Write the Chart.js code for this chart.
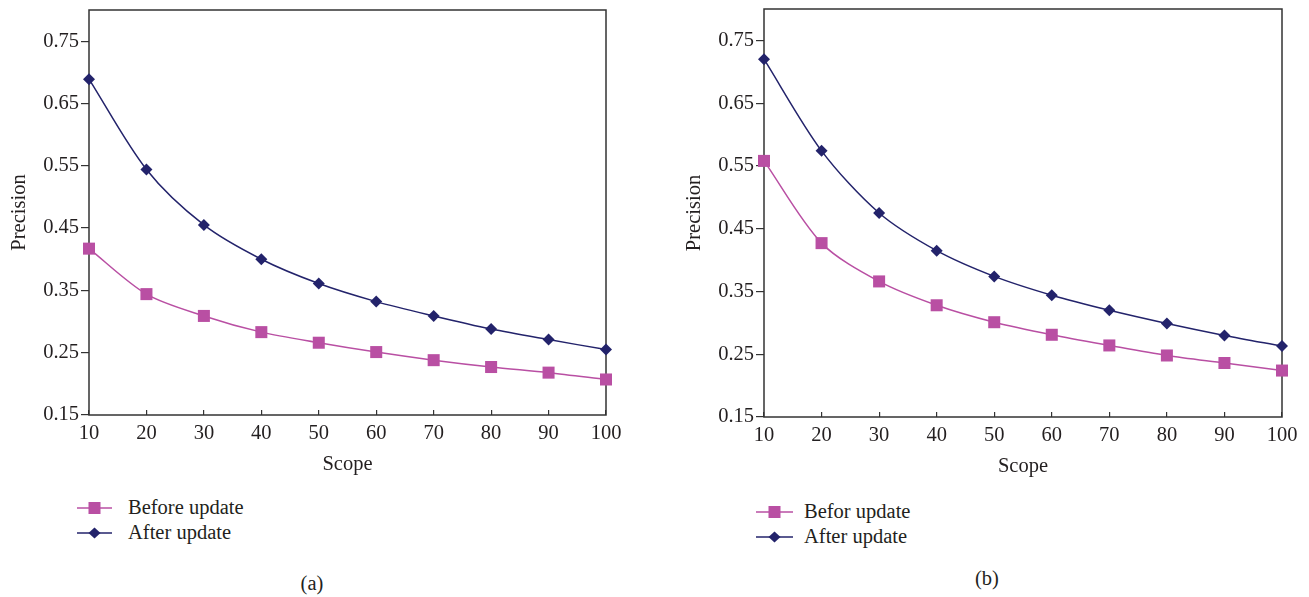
<!DOCTYPE html>
<html><head><meta charset="utf-8">
<script src="https://cdn.jsdelivr.net/npm/chart.js@4.4.1/dist/chart.umd.min.js"></script>
<style>
body{margin:0;background:#fff;width:1309px;height:597px;overflow:hidden;position:relative;font-family:"Liberation Serif",serif;color:#231f20}
.wrap{position:absolute;top:0;height:480px}
.leg{position:absolute;font-size:20.5px}
.row{display:flex;align-items:center;height:25px;white-space:nowrap}
.cap{position:absolute;font-size:20.5px;line-height:1;transform:translate(-50%,-50%)}
</style></head><body>
<div class="wrap" style="left:0;width:655px"><canvas id="ca" width="655" height="480"></canvas></div>
<div class="wrap" style="left:655px;width:654px"><canvas id="cb" width="654" height="480"></canvas></div>
<div class="leg" id="legA" style="left:77px;top:495px"></div>
<div class="leg" id="legB" style="left:756px;top:499px"></div>
<div class="cap" style="left:312px;top:583px">(a)</div>
<div class="cap" style="left:987px;top:578px">(b)</div>
<script>
const scope = [10, 20, 30, 40, 50, 60, 70, 80, 90, 100];
const yTicks = [0.15, 0.25, 0.35, 0.45, 0.55, 0.65, 0.75];
const beforeA = [0.417, 0.344, 0.309, 0.283, 0.266, 0.251, 0.238, 0.227, 0.218, 0.207];
const afterA  = [0.689, 0.544, 0.455, 0.400, 0.361, 0.332, 0.309, 0.288, 0.271, 0.255];
const beforeB = [0.558, 0.427, 0.366, 0.328, 0.301, 0.281, 0.264, 0.248, 0.236, 0.224];
const afterB  = [0.720, 0.574, 0.475, 0.415, 0.374, 0.344, 0.320, 0.299, 0.280, 0.263];
const labelsA = ['Before update', 'After update'];
const labelsB = ['Befor update', 'After update'];

const BEFORE_COLOR = '#b94fa3';
const AFTER_COLOR = '#23236b';
const TEXT = '#231f20';
const FONT = {family: '"Liberation Serif", serif', size: 20.5};

const boxPlugin = {
  id: 'box',
  beforeDatasetsDraw(chart) {
    const a = chart.chartArea, ctx = chart.ctx;
    ctx.save();
    ctx.strokeStyle = '#333';
    ctx.lineWidth = 1.5;
    ctx.strokeRect(a.left, a.top, a.right - a.left, a.bottom - a.top);
    ctx.restore();
  }
};

function zeroPad(s) { s.paddingTop = 0; s.paddingBottom = 0; s.paddingLeft = 0; s.paddingRight = 0; }

function makeChart(id, before, after, labels, g) {
  return new Chart(document.getElementById(id), {
    type: 'line',
    data: {
      datasets: [
        {label: labels[0], data: scope.map((x, i) => ({x, y: before[i]})),
         borderColor: BEFORE_COLOR, backgroundColor: BEFORE_COLOR, borderWidth: 1.5,
         pointStyle: 'rect', pointRadius: 8.5, pointBorderWidth: 0, tension: 0.3, clip: false},
        {label: labels[1], data: scope.map((x, i) => ({x, y: after[i]})),
         borderColor: AFTER_COLOR, backgroundColor: AFTER_COLOR, borderWidth: 1.5,
         pointStyle: 'rectRot', pointRadius: 6, pointBorderWidth: 0, tension: 0.3, clip: false}
      ]
    },
    options: {
      responsive: false,
      animation: false,
      events: [],
      layout: {padding: {left: 0, top: g.top, right: g.right, bottom: 0}},
      plugins: {legend: {display: false}, tooltip: {enabled: false}},
      scales: {
        x: {
          type: 'linear', min: 10, max: 100,
          afterBuildTicks: s => { s.ticks = scope.map(v => ({value: v})); },
          afterFit: s => { s.height = g.xh; zeroPad(s); },
          grid: {drawOnChartArea: false, drawTicks: true, tickLength: -5, color: '#333', lineWidth: 1.2},
          border: {display: false},
          ticks: {color: TEXT, font: FONT, padding: 11, maxRotation: 0, autoSkip: false},
          title: {display: true, text: 'Scope', color: TEXT, font: FONT, padding: {top: 0, bottom: g.xtp}}
        },
        y: {
          type: 'linear', min: 0.15, max: 0.80,
          afterBuildTicks: s => { s.ticks = yTicks.map(v => ({value: v})); },
          afterFit: s => { s.width = g.yw; zeroPad(s); },
          grid: {drawOnChartArea: false, drawTicks: true, tickLength: 8, color: '#333', lineWidth: 1.2},
          border: {display: false},
          ticks: {color: TEXT, font: FONT, padding: 2, callback: v => v.toFixed(2), autoSkip: false},
          title: {display: true, text: 'Precision', color: TEXT, font: FONT, padding: {top: g.ytp, bottom: 0}}
        }
      }
    },
    plugins: [boxPlugin]
  });
}

makeChart('ca', beforeA, afterA, labelsA, {top: 10, right: 49, xh: 65, yw: 89, xtp: 2.7, ytp: 7.2});
makeChart('cb', beforeB, afterB, labelsB, {top: 9, right: 27, xh: 63, yw: 109, xtp: 0.7, ytp: 27.7});

function icon(kind, color, w) {
  const c = w / 2;
  const m = kind === 'rect'
    ? `<rect x="${c - 6}" y="1" width="12" height="12" fill="${color}"/>`
    : `<polygon points="${c},1.5 ${c + 6},7 ${c},12.5 ${c - 6},7" fill="${color}"/>`;
  return `<svg width="${w}" height="14" style="flex:none"><line x1="0" y1="7" x2="${w}" y2="7" stroke="${color}" stroke-width="1.5"/>${m}</svg>`;
}
function legend(id, labels, w, gap) {
  const el = document.getElementById(id);
  el.innerHTML =
    `<div class="row">${icon('rect', BEFORE_COLOR, w)}<span style="margin-left:${gap}px">${labels[0]}</span></div>` +
    `<div class="row">${icon('rectRot', AFTER_COLOR, w)}<span style="margin-left:${gap}px">${labels[1]}</span></div>`;
}
legend('legA', labelsA, 35, 16);
legend('legB', labelsB, 37, 11);
</script>
</body></html>
